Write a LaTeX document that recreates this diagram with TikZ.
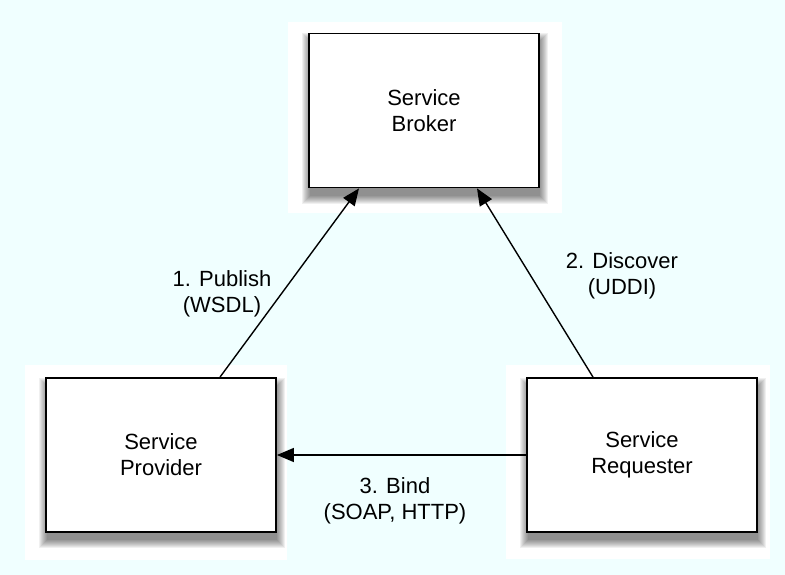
\documentclass[tikz,border=0pt]{standalone}
\usepackage{fontspec}
\setmainfont{Liberation Sans}
\usetikzlibrary{arrows.meta}
\definecolor{bgc}{RGB}{240,255,255}
\tikzset{
  halo/.style={fill=white,draw=none,inner sep=0pt},
  svcbox/.style={draw=black,line width=1.8pt,fill=white,minimum width=230pt,minimum height=154pt,inner sep=0pt,align=center,font=\fontsize{22}{26}\selectfont},
  shadowlayer/.style={fill=black,opacity=0.06},
  arr/.style={line width=1.4pt,-{Triangle[length=17pt,width=14pt]}},
  lbl/.style={align=center,inner sep=0pt,font=\fontsize{22}{25.5}\selectfont}
}
\begin{document}
\begin{tikzpicture}[x=1pt,y=-1pt]
\fill[bgc] (0,0) rectangle (785,575);
\useasboundingbox (0,0) rectangle (785,575);
% halos
\node[halo,minimum width=274pt,minimum height=191pt] (hb) at (425,117.5) {};
\node[halo,minimum width=262pt,minimum height=195pt] (hp) at (156,462.5) {};
\node[halo,minimum width=264pt,minimum height=194pt] (hr) at (638,462) {};
% shadow anchors (invisible, same size as boxes)
\node[minimum width=230pt,minimum height=154pt,inner sep=0pt] (sb) at (424,110.5) {};
\node[minimum width=230pt,minimum height=154pt,inner sep=0pt] (sp) at (161,455) {};
\node[minimum width=230pt,minimum height=154pt,inner sep=0pt] (sr) at (642,455) {};
\foreach \n in {sb,sp,sr}{
  \foreach \e in {8,7,...,0}{
    \fill[shadowlayer] ([xshift={1pt-\e pt},yshift={-8pt-\e pt}]\n.south west) rectangle ([xshift={1pt+\e pt},yshift={-8pt+\e pt}]\n.north east);
  }
}
% boxes
\node[svcbox] (brok) at (424,110.5) {Service\\Broker};
\node[svcbox] (prov) at (161,455) {Service\\Provider};
\node[svcbox] (req) at (642,455) {Service\\Requester};
% connectors
\draw[arr] ([xshift=59pt]prov.north) -- ([xshift=-65pt]brok.south);
\draw[arr] ([xshift=-49pt]req.north) -- ([xshift=53pt]brok.south);
\draw[arr] (req.west) -- (prov.east);
% labels
\node[lbl] (l1) at (222,294) {1. Publish\\(WSDL)};
\node[lbl] (l2) at (622,276) {2. Discover\\(UDDI)};
\node[lbl] (l3) at (395,501) {3. Bind\\(SOAP, HTTP)};
\end{tikzpicture}
\end{document}
